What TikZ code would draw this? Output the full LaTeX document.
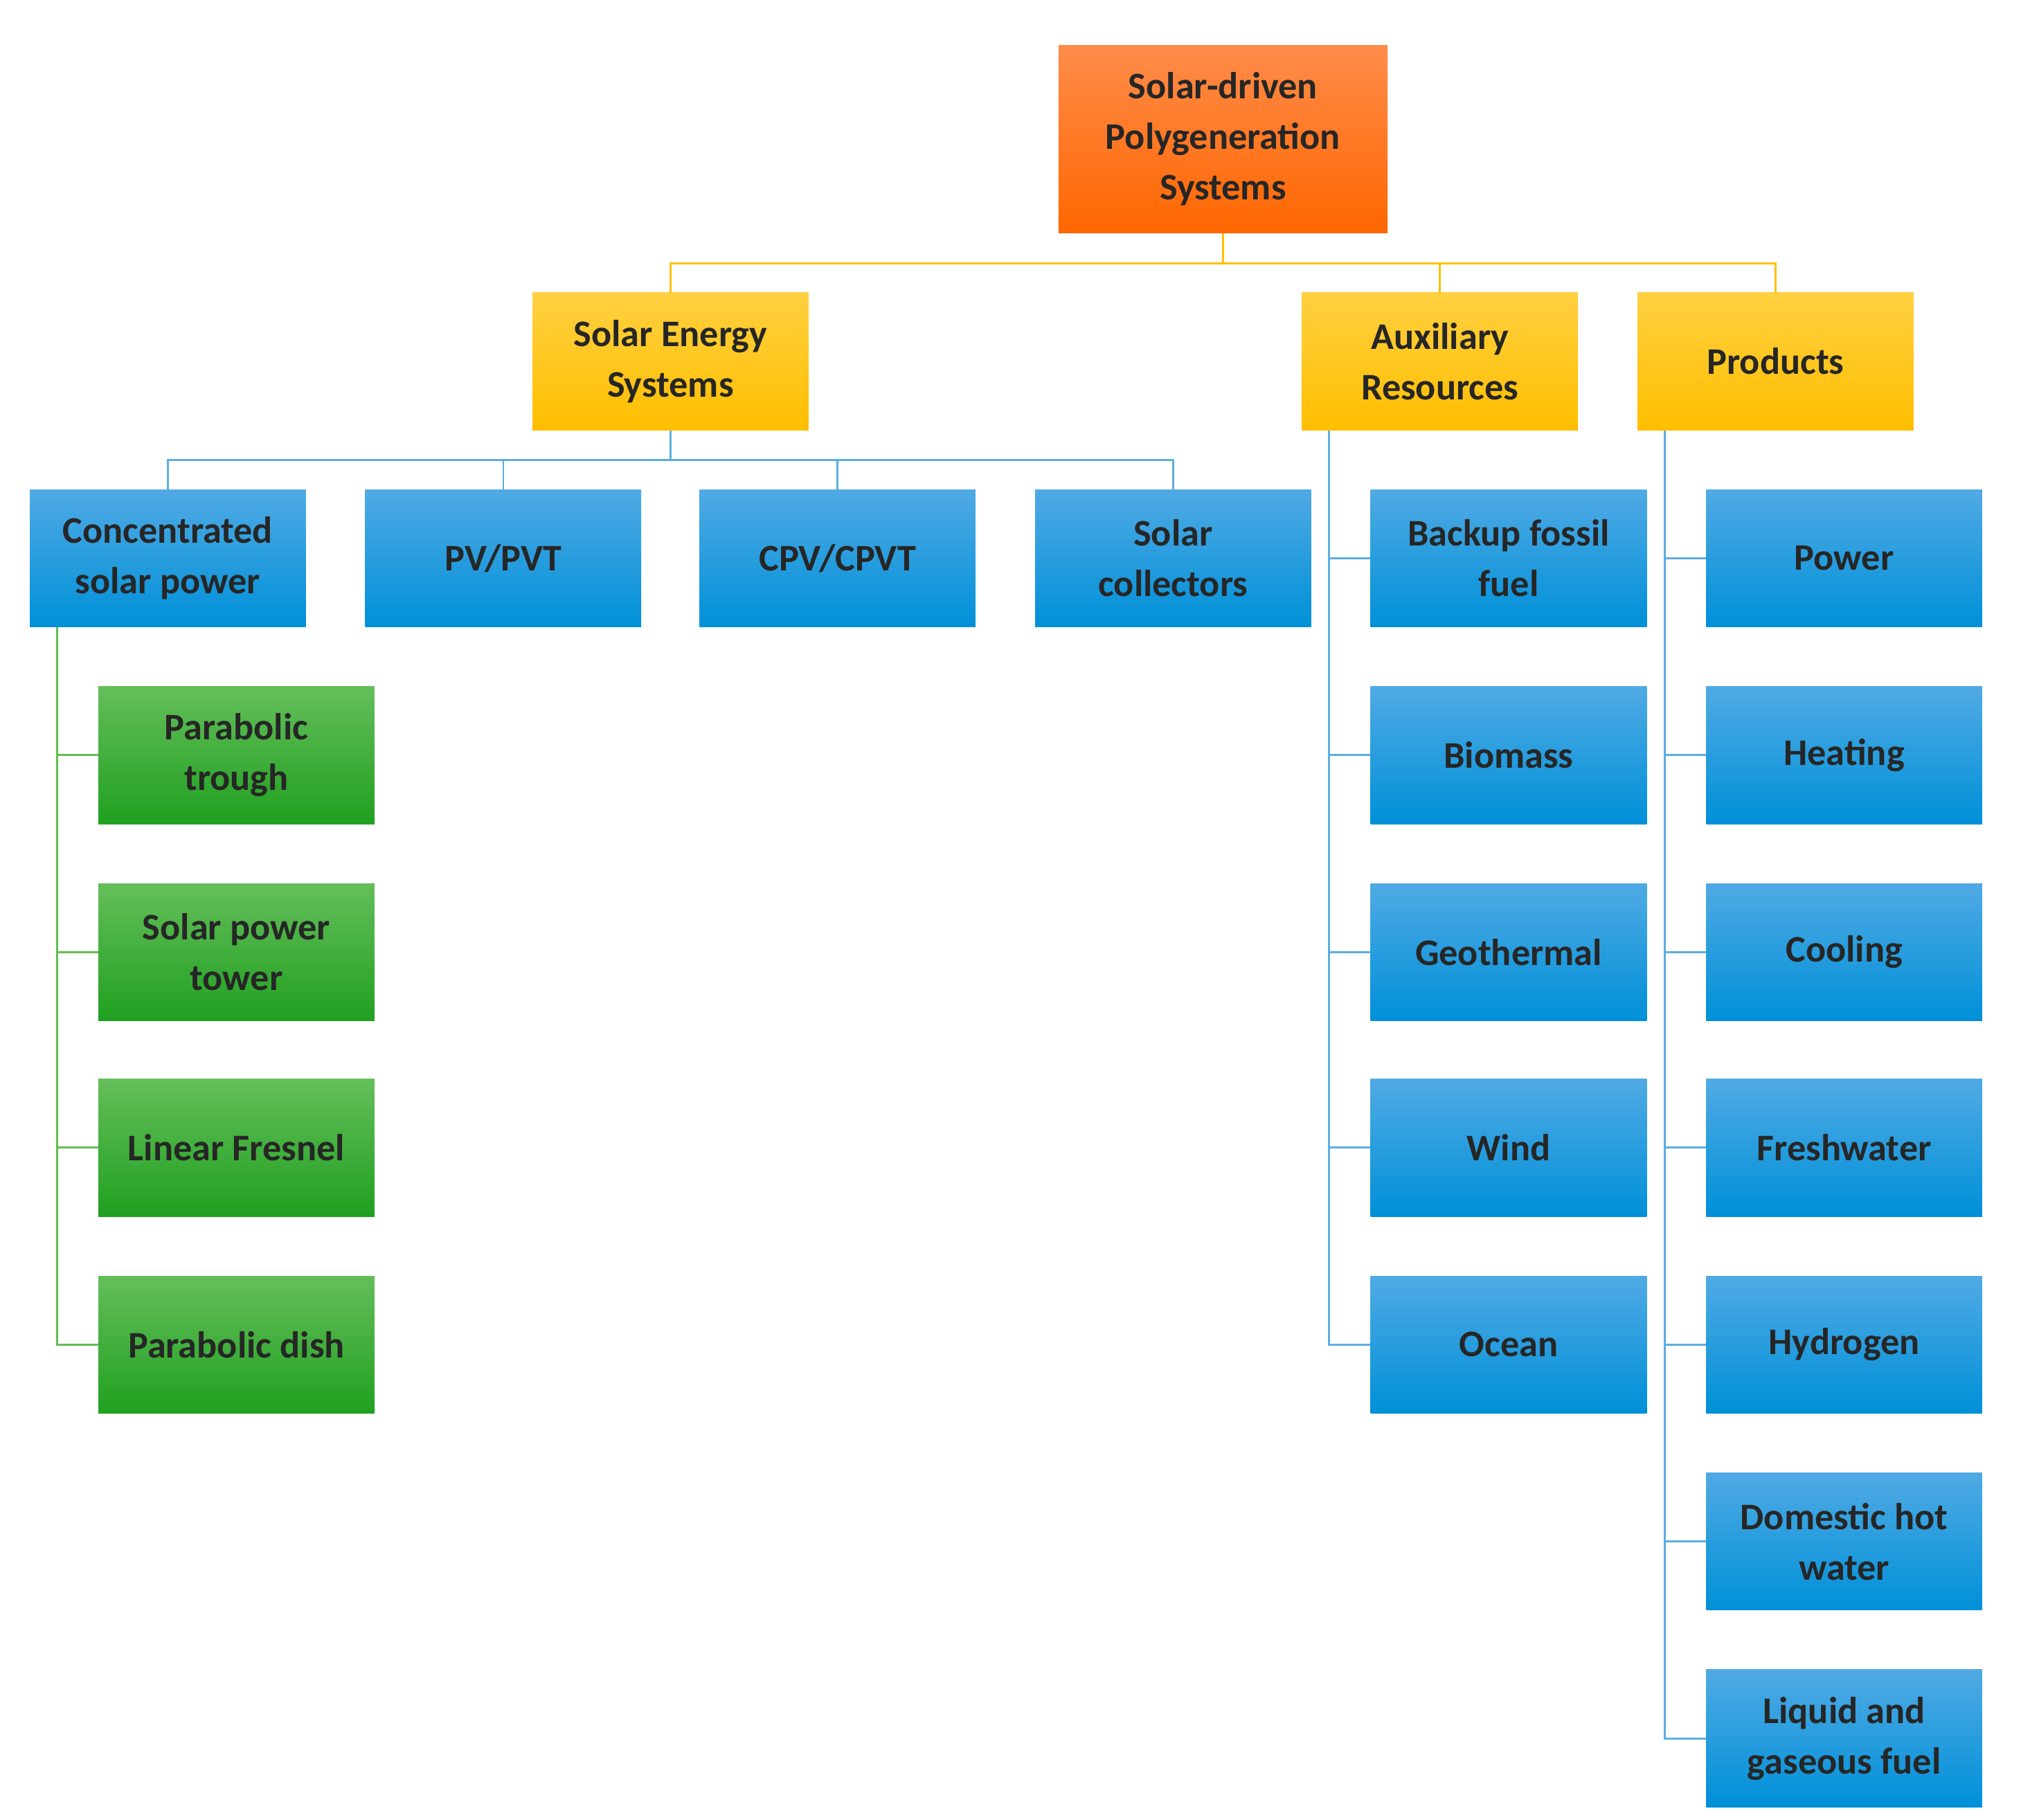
\documentclass[tikz,border=0pt]{standalone}
\usepackage{fontspec}
\setmainfont{Carlito}
\begin{document}
\begin{tikzpicture}[x=1pt,y=1pt,
  box/.style={minimum width=213pt,minimum height=106pt,inner sep=2pt,align=center,
    font=\fontsize{29}{39}\selectfont\bfseries,text=black!85},
  org/.style={box,top color=orange!70!white!90!orange,bottom color=orange!90!red!85!yellow,shading angle=0},
  yel/.style={box,top color={rgb,255:red,255;green,208;blue,64},bottom color={rgb,255:red,255;green,190;blue,0}},
  blu/.style={box,top color={rgb,255:red,80;green,170;blue,228},bottom color={rgb,255:red,0;green,144;blue,216}},
  grn/.style={box,top color={rgb,255:red,100;green,190;blue,90},bottom color={rgb,255:red,32;green,160;blue,32}},
  yl/.style={draw={rgb,255:red,255;green,192;blue,0},line width=1.5pt},
  bl/.style={draw={rgb,255:red,91;green,174;blue,224},line width=1.5pt},
  gl/.style={draw={rgb,255:red,96;green,192;blue,80},line width=1.5pt}]
\useasboundingbox (0,0) rectangle (1560,-1405);
\node[box,top color={rgb,255:red,255;green,140;blue,74},bottom color={rgb,255:red,255;green,102;blue,0},minimum width=254pt,minimum height=145pt] (root) at (944,-107.5) {Solar-driven\\Polygeneration\\Systems};
\node[yel] (ses) at (517.5,-279) {Solar Energy\\Systems};
\node[yel] (aux) at (1111.5,-279) {Auxiliary\\Resources};
\node[yel] (prod) at (1370.5,-279) {Products};
\node[blu] (csp) at (129.5,-431) {Concentrated\\solar power};
\node[blu] (pv) at (388.5,-431) {PV/PVT};
\node[blu] (cpv) at (646.5,-431) {CPV/CPVT};
\node[blu] (sc) at (905.5,-431) {Solar\\collectors};
\node[grn] (g1) at (182.5,-583) {Parabolic\\trough};
\node[grn] (g2) at (182.5,-735) {Solar power\\tower};
\node[grn] (g3) at (182.5,-886) {Linear Fresnel};
\node[grn] (g4) at (182.5,-1038) {Parabolic dish};
\node[blu] (a1) at (1164.5,-431) {Backup fossil\\fuel};
\node[blu] (a2) at (1164.5,-583) {Biomass};
\node[blu] (a3) at (1164.5,-735) {Geothermal};
\node[blu] (a4) at (1164.5,-886) {Wind};
\node[blu] (a5) at (1164.5,-1038) {Ocean};
\node[blu] (p1) at (1423.5,-431) {Power};
\node[blu] (p2) at (1423.5,-583) {Heating};
\node[blu] (p3) at (1423.5,-735) {Cooling};
\node[blu] (p4) at (1423.5,-886) {Freshwater};
\node[blu] (p5) at (1423.5,-1038) {Hydrogen};
\node[blu] (p6) at (1423.5,-1190) {Domestic hot\\water};
\node[blu] (p7) at (1423.5,-1342) {Liquid and\\gaseous fuel};
\foreach \t in {ses,aux,prod} \draw[yl] (root.south) -- ++(0,-23) -| (\t.north);
\foreach \t in {csp,pv,cpv,sc} \draw[bl] (ses.south) -- ++(0,-23) -| (\t.north);
\foreach \t in {g1,g2,g3,g4} \draw[gl] ([xshift=-85.5]csp.south) |- (\t.west);
\foreach \t in {a1,a2,a3,a4,a5} \draw[bl] ([xshift=-85.5]aux.south) |- (\t.west);
\foreach \t in {p1,p2,p3,p4,p5,p6,p7} \draw[bl] ([xshift=-85.5]prod.south) |- (\t.west);
\end{tikzpicture}
\end{document}
